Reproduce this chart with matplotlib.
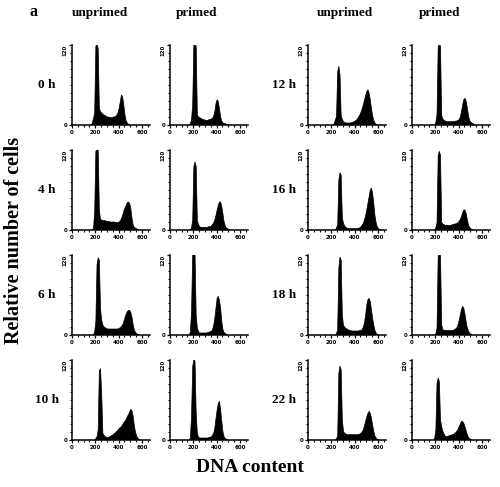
import matplotlib
matplotlib.use("Agg")
import matplotlib.pyplot as plt
import numpy as np
from matplotlib.ticker import MultipleLocator, FixedLocator

# ---------------- data (counts per 10-unit DNA channel bin) ----------------
bin_width = 10
times_left = ["0 h", "4 h", "6 h", "10 h"]
times_right = ["12 h", "16 h", "18 h", "22 h"]
conditions = ["unprimed", "primed"]
x_ticks = [0, 200, 400, 600]

unprimed_0h_start = 170
unprimed_0h = [3, 10, 18, 118, 125, 115, 25, 20, 18, 16, 15, 14, 13, 12, 12, 11, 11, 11, 12, 12,
               13, 15, 18, 25, 35, 45, 42, 30, 15, 6, 3, 1]
primed_0h_start = 170
primed_0h = [2, 8, 30, 120, 125, 118, 15, 12, 11, 10, 9, 8, 8, 7, 7, 7, 8, 8, 9, 10,
             13, 20, 32, 38, 35, 24, 12, 6, 3, 2, 2, 1, 1]

unprimed_4h_start = 180
unprimed_4h = [3, 27, 118, 125, 125, 30, 16, 15, 14, 14, 14, 13, 13, 13, 12, 12, 12, 12, 12, 11,
               11, 11, 12, 14, 17, 22, 28, 33, 37, 41, 42, 40, 33, 18, 8, 4, 3, 2, 1]
primed_4h_start = 180
primed_4h = [3, 15, 95, 102, 95, 14, 8, 5, 4, 4, 4, 4, 4, 4, 4, 5, 5, 6, 8, 11,
             15, 22, 30, 37, 42, 42, 35, 24, 12, 6, 3, 2, 1]

unprimed_6h_start = 190
unprimed_6h = [5, 20, 105, 116, 112, 40, 22, 15, 12, 11, 10, 9, 9, 9, 9, 9, 9, 9, 9, 9,
               9, 10, 11, 13, 15, 20, 26, 31, 35, 37, 37, 34, 27, 16, 8, 4, 2, 1]
primed_6h_start = 170
primed_6h = [4, 35, 125, 125, 125, 30, 10, 5, 3, 3, 3, 3, 3, 3, 3, 4, 4, 5, 5, 8,
             14, 25, 40, 55, 58, 52, 40, 20, 8, 4, 2, 1]

unprimed_10h_start = 200
unprimed_10h = [2, 5, 15, 104, 107, 70, 10, 7, 5, 4, 4, 4, 5, 6, 7, 8, 10, 11, 13, 15,
                17, 19, 20, 23, 26, 28, 31, 35, 38, 42, 46, 44, 36, 22, 12, 6, 3, 1]
primed_10h_start = 170
primed_10h = [3, 35, 110, 125, 118, 40, 10, 4, 3, 3, 3, 3, 3, 3, 3, 3, 4, 4, 5, 7,
              10, 18, 32, 45, 55, 58, 45, 28, 12, 5, 2, 1]

unprimed_12h_start = 220
unprimed_12h = [2, 8, 12, 80, 88, 75, 14, 8, 5, 4, 3, 3, 3, 3, 3, 4, 4, 5, 6, 7,
                9, 12, 15, 19, 24, 30, 37, 44, 50, 53, 48, 38, 25, 14, 7, 3, 1]
primed_12h_start = 200
primed_12h = [4, 16, 118, 125, 118, 14, 9, 7, 6, 5, 5, 5, 5, 5, 5, 5, 5, 6, 6, 7,
              8, 12, 20, 30, 38, 40, 36, 26, 14, 7, 4, 3, 2, 1]

unprimed_16h_start = 240
unprimed_16h = [3, 8, 75, 86, 82, 18, 10, 6, 4, 3, 2, 2, 2, 2, 2, 2, 2, 2, 2, 3,
                3, 5, 7, 10, 15, 21, 30, 40, 50, 60, 63, 55, 40, 22, 11, 5, 2, 1]
primed_16h_start = 200
primed_16h = [3, 11, 112, 118, 112, 11, 9, 8, 7, 7, 7, 7, 7, 7, 8, 8, 9, 9, 10, 11,
              13, 16, 20, 26, 30, 30, 25, 16, 8, 4, 2, 1]

unprimed_18h_start = 240
unprimed_18h = [2, 8, 100, 117, 112, 30, 14, 12, 10, 9, 8, 7, 7, 6, 6, 6, 6, 6, 6, 6,
                7, 7, 8, 12, 18, 30, 45, 53, 55, 50, 38, 25, 15, 7, 3, 1]
primed_18h_start = 200
primed_18h = [2, 10, 118, 125, 125, 15, 8, 7, 7, 7, 7, 7, 7, 7, 7, 7, 8, 9, 11, 15,
              22, 30, 38, 43, 40, 31, 20, 11, 6, 3, 1]

unprimed_22h_start = 240
unprimed_22h = [2, 6, 100, 111, 105, 30, 13, 10, 9, 8, 8, 8, 8, 8, 8, 8, 8, 8, 8, 8,
                9, 10, 12, 15, 21, 28, 35, 40, 43, 40, 33, 22, 13, 6, 3, 1]
primed_22h_start = 190
primed_22h = [3, 15, 85, 93, 88, 30, 20, 13, 9, 6, 5, 5, 6, 7, 7, 8, 8, 10, 11, 13,
              16, 20, 24, 28, 28, 25, 20, 14, 8, 4, 2, 1]

grid_left = [
    [(unprimed_0h_start, unprimed_0h), (primed_0h_start, primed_0h)],
    [(unprimed_4h_start, unprimed_4h), (primed_4h_start, primed_4h)],
    [(unprimed_6h_start, unprimed_6h), (primed_6h_start, primed_6h)],
    [(unprimed_10h_start, unprimed_10h), (primed_10h_start, primed_10h)],
]
grid_right = [
    [(unprimed_12h_start, unprimed_12h), (primed_12h_start, primed_12h)],
    [(unprimed_16h_start, unprimed_16h), (primed_16h_start, primed_16h)],
    [(unprimed_18h_start, unprimed_18h), (primed_18h_start, primed_18h)],
    [(unprimed_22h_start, unprimed_22h), (primed_22h_start, primed_22h)],
]

# ---------------- layout ----------------
W, H = 500, 487
fig = plt.figure(figsize=(W / 100, H / 100), dpi=100)
serif = ["Liberation Serif", "DejaVu Serif"]

col_x = [72, 170, 308, 412]
row_top = [45, 150, 255, 360]
ax_w, ax_h = 78, 80


def draw_panel(ax, start, counts):
    counts = np.minimum(np.asarray(counts, dtype=float), 121)
    centers = start + bin_width * (np.arange(len(counts)) + 0.5)
    xs = np.concatenate([[start - bin_width * 0.5], centers, [centers[-1] + bin_width]])
    ys = np.concatenate([[0.0], counts, [0.0]])
    ax.fill(xs, ys, facecolor="black", edgecolor="black", linewidth=0.5)
    ax.set_xlim(0, 670)
    ax.set_ylim(0, 120)
    for s in ("top", "right"):
        ax.spines[s].set_visible(False)
    for s in ("left", "bottom"):
        ax.spines[s].set_linewidth(1.1)
    ax.xaxis.set_major_locator(FixedLocator(x_ticks))
    ax.xaxis.set_minor_locator(MultipleLocator(50))
    ax.yaxis.set_major_locator(FixedLocator([0, 120]))
    ax.yaxis.set_minor_locator(MultipleLocator(12))
    ax.tick_params(axis="both", which="major", direction="out", length=2, width=0.9,
                   labelsize=4, pad=1.5)
    ax.tick_params(axis="both", which="minor", direction="out", length=1.6, width=0.8)
    ax.set_xticklabels([str(t) for t in x_ticks], fontweight="bold")
    ax.set_yticklabels(["0", "120"], fontweight="bold")
    lbls = ax.get_yticklabels()
    lbls[1].set_rotation(90)
    lbls[1].set_va("top")


for block, grid, times, label_x in ((0, grid_left, times_left, 47), (1, grid_right, times_right, 284)):
    for r, row in enumerate(grid):
        for c, (start, counts) in enumerate(row):
            x0 = col_x[2 * block + c]
            y0 = row_top[r]
            ax = fig.add_axes([x0 / W, 1 - (y0 + ax_h) / H, ax_w / W, ax_h / H])
            draw_panel(ax, start, counts)
        fig.text(label_x / W, 1 - (row_top[r] + 40) / H, times[r], ha="center", va="center",
                 fontsize=9.5, fontweight="bold", family=serif)

header_x = [100, 197, 345, 440]
for i, hx in enumerate(header_x):
    fig.text(hx / W, 1 - 13 / H, conditions[i % 2], ha="center", va="center",
             fontsize=9.5, fontweight="bold", family=serif)

fig.text(33 / W, 1 - 12 / H, "a", ha="center", va="center", fontsize=11.5,
         fontweight="bold", family=serif)
fig.text(14 / W, 1 - 240 / H, "Relative number of cells", ha="center", va="center",
         rotation=90, fontsize=14.5, fontweight="bold", family=serif)
fig.text(250 / W, 1 - 467 / H, "DNA content", ha="center", va="center",
         fontsize=14, fontweight="bold", family=serif)

fig.savefig("out.png", dpi=100, facecolor="white")
